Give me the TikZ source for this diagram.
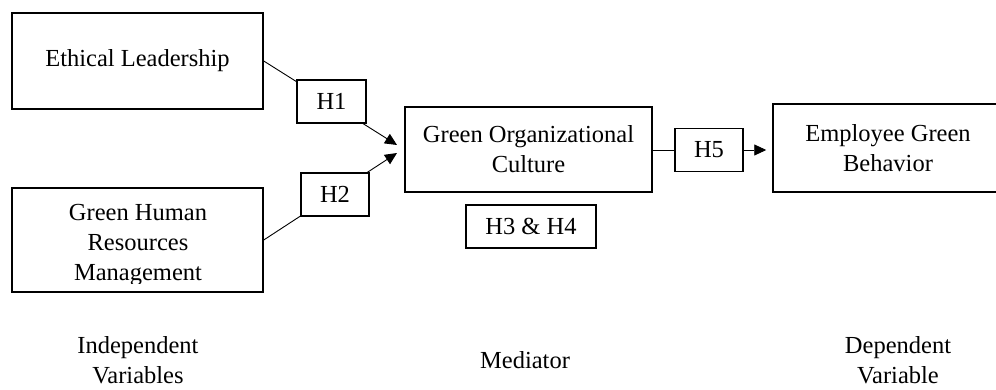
\documentclass[tikz,border=0pt]{standalone}
\usepackage{fontspec}
\setmainfont{Liberation Serif}
\usetikzlibrary{arrows.meta,calc}
\begin{document}
\begin{tikzpicture}[x=1pt,y=-1pt,
  every node/.style={font=\fontsize{24.5}{30}\selectfont, align=center, inner sep=0pt},
  varbox/.style={draw, line width=1.5pt, fill=white},
  hbox/.style={draw, line width=1.4pt, fill=white, minimum height=43pt},
  link/.style={line width=0.9pt},
  arr/.style={link, -{Triangle[length=12pt,width=11pt]}},
  caption/.style={}]
\useasboundingbox (0,0) rectangle (996,390);

% variable boxes
\node[varbox, minimum width=251pt, minimum height=96pt] (el) at (137.5,61) {Ethical Leadership};
\node[varbox, minimum width=251pt, minimum height=104pt] (ghrm) at (137.5,240) {};
\begin{scope}
  \clip (14,190) rectangle (261,283);
  \node (ghrmtext) at (138,245.5) {Green Human\\Resources\\Management};
\end{scope}
\node[varbox, minimum width=247pt, minimum height=85pt] (goc) at (528.5,149.5) {Green Organizational\\Culture};
\begin{scope}
  \clip (0,0) rectangle (996,390);
  \node[varbox, minimum width=230pt, minimum height=88pt] (egb) at (888,148) {Employee Green\\Behavior};
\end{scope}

% arrow tips near the mediator
\coordinate (t1) at (397,145);
\coordinate (t2) at (397,153);

\draw[arr] (el.east) -- (t1);
\draw[arr] (ghrm.east) -- (t2);

% hypothesis labels
\node[hbox, minimum width=69pt] (h1) at (331.5,101.5) {H1};
\node[hbox, minimum width=68pt] (h2) at (335,194.5) {H2};
\node[hbox, minimum width=130pt] (h34) at (531,226.5) {H3 \& H4};
\node[hbox, minimum width=68pt] (h5) at (709,150) {H5};

\draw[link] (goc.east |- h5.west) -- (h5.west);
\draw[arr, shorten >=6pt] (h5.east) -- (h5.east -| egb.west);

% captions
\node[caption] (iv) at (138,360) {Independent\\Variables};
\node[caption] (med) at (525,360) {Mediator};
\node[caption] (dv) at (898,360) {Dependent\\Variable};
\end{tikzpicture}
\end{document}
